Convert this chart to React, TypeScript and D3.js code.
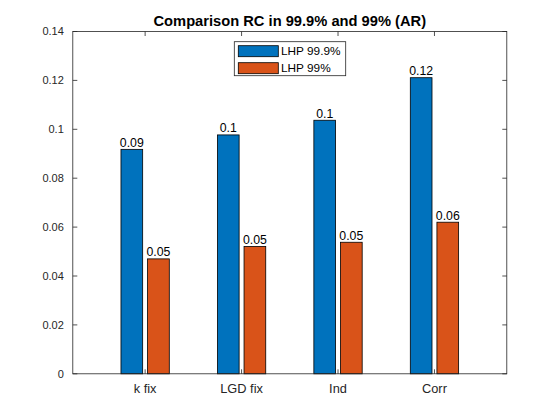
import React from "react";
import * as d3 from "d3";

const categories = ["k fix", "LGD fix", "Ind", "Corr"];
const seriesNames = ["LHP 99.9%", "LHP 99%"];
const lhp999 = [0.0918, 0.0977, 0.1037, 0.1211];
const lhp99 = [0.047, 0.0521, 0.0538, 0.062];
const yTicks = [0, 0.02, 0.04, 0.06, 0.08, 0.1, 0.12, 0.14];
const colors = ["#0072BD", "#D95319"];

const W = 560, H = 420;
const L = 72.8, R = 506.8, T = 31.5, B = 373.8;
const font = "Arial, 'Liberation Sans', Helvetica, sans-serif";
const axisColor = "#262626";

export default function App() {
  const x = d3.scaleLinear().domain([0.25, 4.75]).range([L, R]);
  const y = d3.scaleLinear().domain([0, 0.14]).range([B, T]);
  const series = [lhp999, lhp99];
  const offsets = [-0.138, 0.138];
  const bw = 0.225;
  const fmt = (v: number) => String(Math.round(v * 100) / 100);
  const tickLen = 4.5;

  return (
    <svg width={W} height={H} style={{ display: "block", position: "absolute", left: 0, top: 0, background: "#fff" }}>
      <rect x={0} y={0} width={W} height={H} fill="#fff" />
      {series.map((vals, si) =>
        vals.map((v, i) => {
          const cx = x(i + 1 + offsets[si]);
          const w = x(bw) - x(0);
          const x0 = cx - w / 2;
          return (
            <g key={`${si}-${i}`}>
              <rect x={x0} y={y(v)} width={w} height={y(0) - y(v)} fill={colors[si]} stroke="#000" strokeWidth={0.8} />
              <text x={cx} y={y(v) - 2.5} textAnchor="middle" fontFamily={font} fontSize={12.3} fill="#000">
                {fmt(v)}
              </text>
            </g>
          );
        })
      )}
      <rect x={L} y={T} width={R - L} height={B - T} fill="none" stroke={axisColor} strokeWidth={0.8} />
      {yTicks.map((t) => (
        <g key={t}>
          <line x1={L} x2={L + tickLen} y1={y(t)} y2={y(t)} stroke={axisColor} strokeWidth={0.8} />
          <line x1={R} x2={R - tickLen} y1={y(t)} y2={y(t)} stroke={axisColor} strokeWidth={0.8} />
          <text x={L - 9} y={y(t)} dy="0.35em" textAnchor="end" fontFamily={font} fontSize={11} fill={axisColor}>
            {String(t)}
          </text>
        </g>
      ))}
      {categories.map((c, i) => (
        <g key={c}>
          <line x1={x(i + 1)} x2={x(i + 1)} y1={B} y2={B - tickLen} stroke={axisColor} strokeWidth={0.8} />
          <line x1={x(i + 1)} x2={x(i + 1)} y1={T} y2={T + tickLen} stroke={axisColor} strokeWidth={0.8} />
          <text x={x(i + 1)} y={B + 19} textAnchor="middle" fontFamily={font} fontSize={12.8} fill={axisColor}>
            {c}
          </text>
        </g>
      ))}
      <text x={(L + R) / 2} y={25.5} textAnchor="middle" fontFamily={font} fontSize={14.7} fontWeight="bold" fill="#000">
        Comparison RC in 99.9% and 99% (AR)
      </text>
      <g>
        <rect x={234.3} y={41.7} width={111.4} height={34} fill="#fff" stroke={axisColor} strokeWidth={0.8} />
        {seriesNames.map((n, i) => (
          <g key={n}>
            <rect x={238.3} y={45.7 + i * 17} width={40} height={11} fill={colors[i]} stroke="#000" strokeWidth={0.8} />
            <text x={281} y={51.2 + i * 17} dy="0.35em" fontFamily={font} fontSize={11.8} fill="#000">
              {n}
            </text>
          </g>
        ))}
      </g>
    </svg>
  );
}
